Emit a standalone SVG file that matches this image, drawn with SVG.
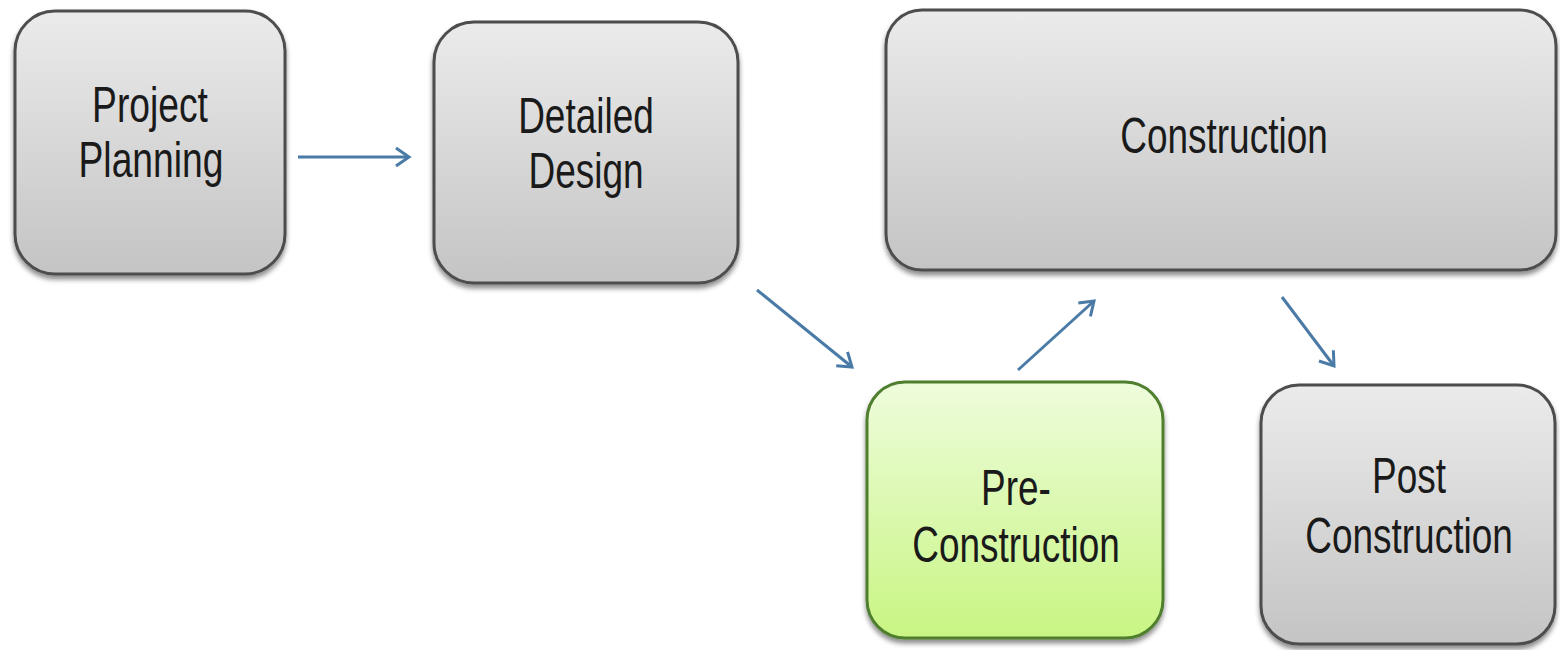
<svg xmlns="http://www.w3.org/2000/svg" width="1560" height="650" viewBox="0 0 1560 650">
<defs>
<linearGradient id="gGray" x1="0" y1="0" x2="0" y2="1">
<stop offset="0" stop-color="#ebebeb"/>
<stop offset="1" stop-color="#c4c4c4"/>
</linearGradient>
<linearGradient id="gGreen" x1="0" y1="0" x2="0" y2="1">
<stop offset="0" stop-color="#eefcdc"/>
<stop offset="1" stop-color="#c8f583"/>
</linearGradient>
<filter id="shadow" x="-10%" y="-10%" width="120%" height="125%">
<feDropShadow dx="0" dy="4" stdDeviation="2.5" flood-color="#000" flood-opacity="0.45"/>
</filter>
<marker id="arr" viewBox="0 0 22 22" refX="17" refY="11" markerWidth="22" markerHeight="22" markerUnits="userSpaceOnUse" orient="auto">
<path d="M4,2 L17,11 L4,20" fill="none" stroke="#4a7aa6" stroke-width="3"/>
</marker>
</defs>
<style>
.box{fill:url(#gGray);stroke:#4d4d4d;stroke-width:3;filter:url(#shadow)}
.green{fill:url(#gGreen);stroke:#4f7f2f;stroke-width:3;filter:url(#shadow)}
.lbl{font-family:"Liberation Sans",Arial,sans-serif;font-size:50px;fill:#1a1a1a;text-anchor:middle}
.conn{fill:none;stroke:#4a7aa6;stroke-width:3;marker-end:url(#arr)}
</style>
<rect width="1560" height="650" fill="#ffffff"/>
<g id="connectors">
<line class="conn" x1="298" y1="157" x2="409" y2="157"/>
<line class="conn" x1="757" y1="290" x2="852" y2="367"/>
<line class="conn" x1="1018" y1="370" x2="1094" y2="301"/>
<line class="conn" x1="1282" y1="297" x2="1334" y2="366"/>
</g>
<g id="project-planning">
<rect class="box" x="15" y="11" width="270" height="263" rx="40"/>
<text class="lbl" transform="translate(150 0) scale(0.745 1)" x="0" y="122">Project</text>
<text class="lbl" transform="translate(151 0) scale(0.745 1)" x="0" y="177">Planning</text>
</g>
<g id="detailed-design">
<rect class="box" x="434" y="22" width="304" height="261" rx="40"/>
<text class="lbl" transform="translate(586 0) scale(0.74 1)" x="0" y="133">Detailed</text>
<text class="lbl" transform="translate(586 0) scale(0.74 1)" x="0" y="188">Design</text>
</g>
<g id="construction">
<rect class="box" x="886" y="10" width="670" height="260" rx="36"/>
<text class="lbl" transform="translate(1224 0) scale(0.74 1)" x="0" y="153">Construction</text>
</g>
<g id="pre-construction">
<rect class="green" x="867" y="382" width="296" height="256" rx="38"/>
<text class="lbl" transform="translate(1016 0) scale(0.74 1)" x="0" y="505">Pre-</text>
<text class="lbl" transform="translate(1016 0) scale(0.74 1)" x="0" y="562">Construction</text>
</g>
<g id="post-construction">
<rect class="box" x="1261" y="385" width="294" height="259" rx="38"/>
<text class="lbl" transform="translate(1409 0) scale(0.74 1)" x="0" y="493">Post</text>
<text class="lbl" transform="translate(1409 0) scale(0.74 1)" x="0" y="553">Construction</text>
</g>
</svg>
